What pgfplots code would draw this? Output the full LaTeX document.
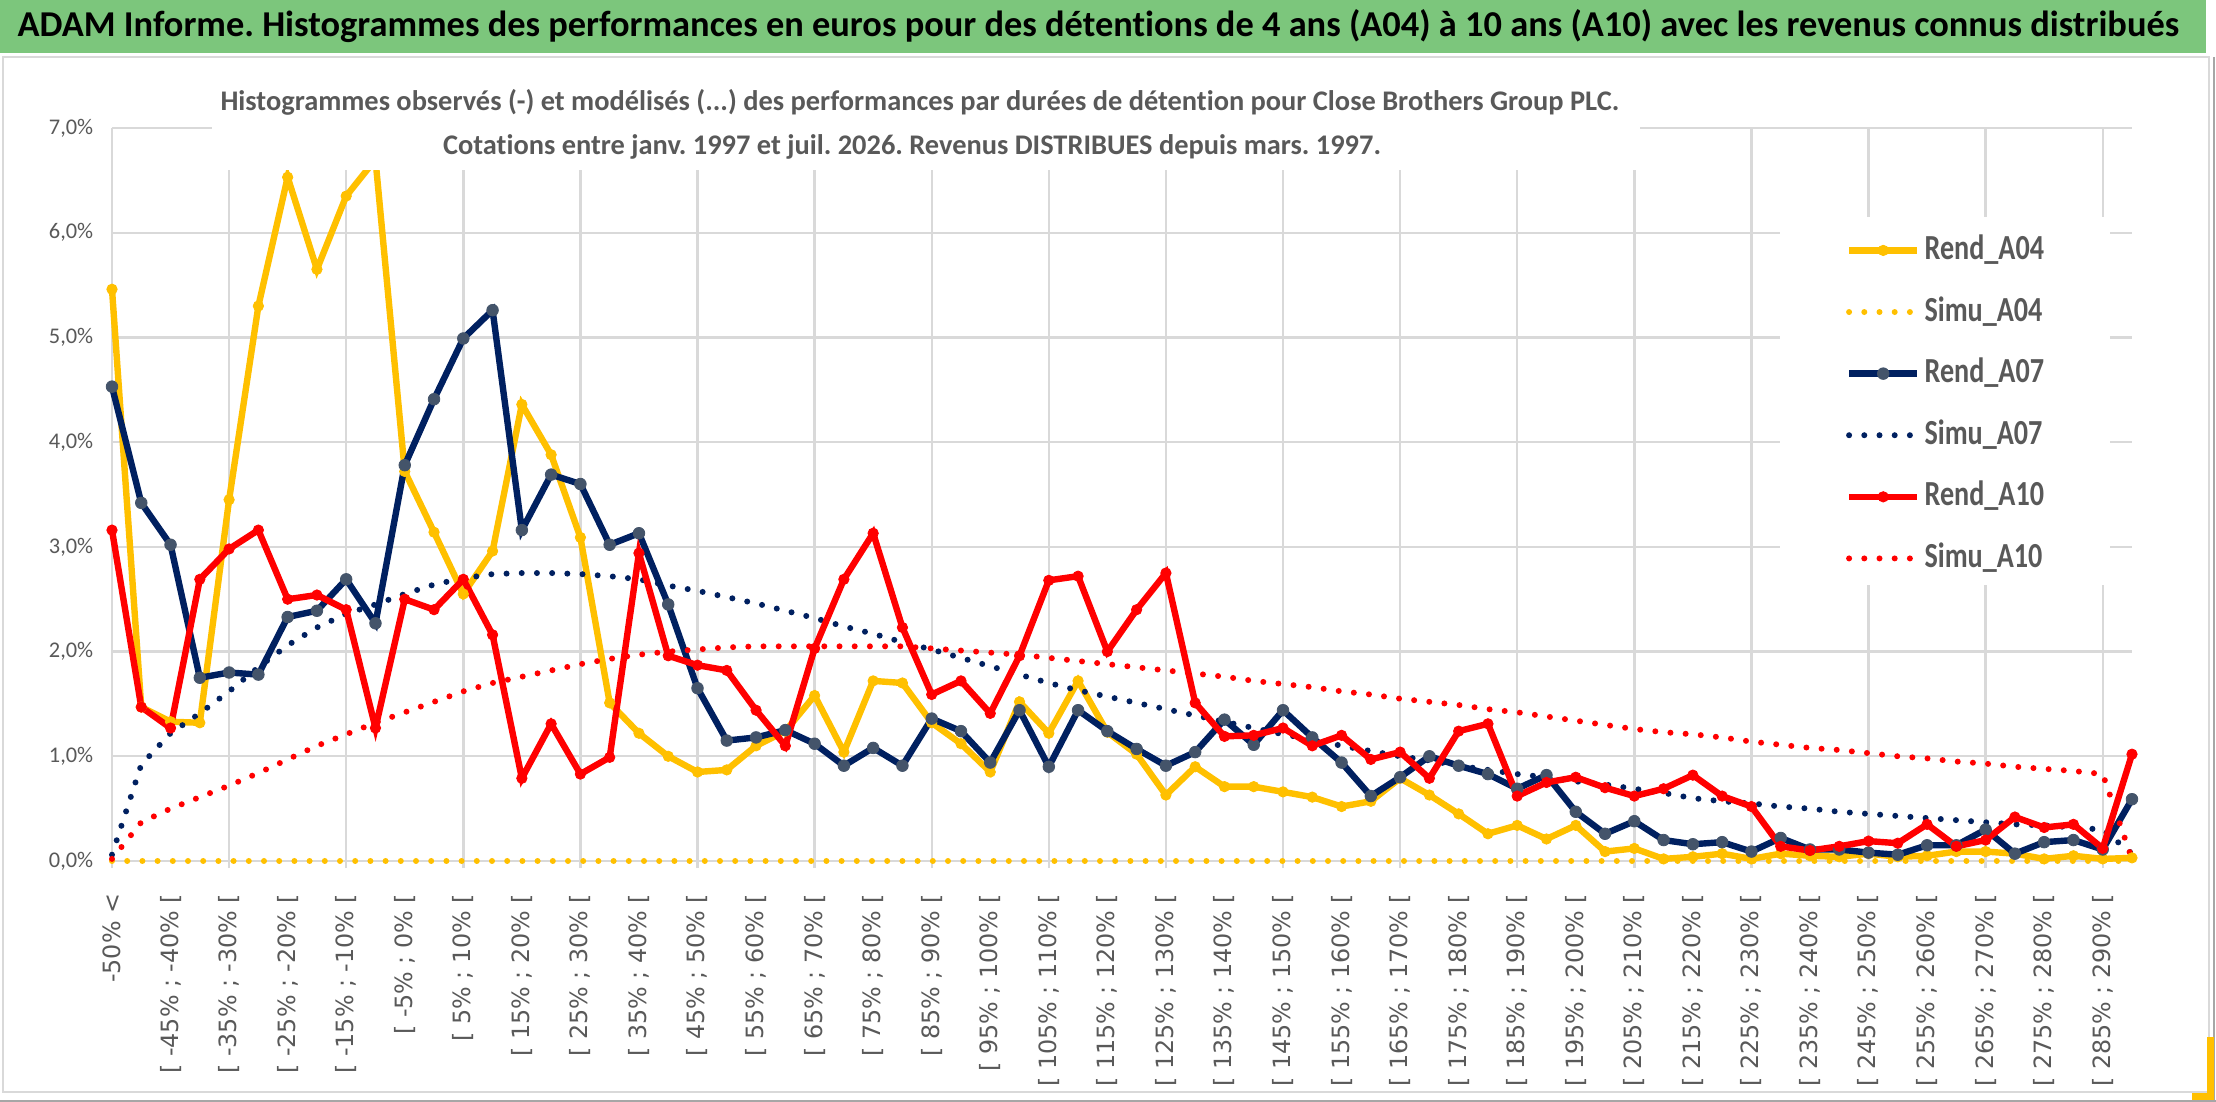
\documentclass[border=0pt]{standalone}
\usepackage{fontspec}
\setmainfont{Carlito}[Ligatures=NoCommon]
\newfontfamily\dejavu{DejaVu Sans}
\newfontfamily\legfont{Carlito}[FakeStretch=0.8, Ligatures=NoCommon]
\usepackage{pgfplots}
\usepackage{pgfplotstable}
\pgfplotsset{compat=1.18}
\definecolor{cYel}{HTML}{FFC000}
\definecolor{cNavy}{HTML}{002060}
\definecolor{cRed}{HTML}{FF0000}
\definecolor{cMark}{HTML}{44546A}
\definecolor{cGrid}{HTML}{D9D9D9}
\definecolor{cTxt}{HTML}{595959}
\definecolor{cGreen}{RGB}{124,198,124}

\pgfplotstableread{
i A04 S04 A07 S07 A10 S10
0 5.46 0 4.53 0.06 3.16 0.02
1 1.47 0 3.42 0.92 1.47 0.37
2 1.33 0 3.02 1.22 1.27 0.50
3 1.32 0 1.75 1.41 2.69 0.61
4 3.45 0 1.80 1.62 2.98 0.72
5 5.30 0 1.78 1.85 3.16 0.84
6 6.53 0 2.33 2.06 2.50 0.97
7 5.65 0 2.39 2.23 2.54 1.10
8 6.35 0 2.69 2.36 2.40 1.21
9 6.70 0 2.27 2.45 1.27 1.32
10 3.72 0 3.78 2.55 2.50 1.42
11 3.14 0 4.41 2.64 2.40 1.52
12 2.55 0 4.99 2.70 2.69 1.62
13 2.96 0 5.26 2.74 2.16 1.70
14 4.36 0 3.16 2.75 0.79 1.76
15 3.88 0 3.69 2.75 1.31 1.82
16 3.09 0 3.60 2.74 0.83 1.88
17 1.51 0 3.02 2.72 0.99 1.93
18 1.22 0 3.13 2.69 2.94 1.97
19 1.00 0 2.45 2.63 1.96 2.00
20 0.85 0 1.65 2.58 1.87 2.02
21 0.87 0 1.15 2.52 1.82 2.04
22 1.10 0 1.18 2.46 1.44 2.05
23 1.24 0 1.25 2.39 1.10 2.05
24 1.58 0 1.12 2.32 2.03 2.05
25 1.04 0 0.91 2.24 2.69 2.05
26 1.72 0 1.08 2.17 3.13 2.05
27 1.70 0 0.91 2.09 2.23 2.05
28 1.32 0 1.36 2.02 1.59 2.03
29 1.12 0 1.24 1.94 1.72 2.01
30 0.85 0 0.94 1.86 1.41 1.99
31 1.52 0 1.44 1.78 1.96 1.97
32 1.22 0 0.90 1.70 2.68 1.94
33 1.72 0 1.44 1.63 2.72 1.91
34 1.23 0 1.24 1.57 2.00 1.88
35 1.02 0 1.07 1.51 2.40 1.85
36 0.63 0 0.91 1.45 2.75 1.82
37 0.90 0 1.04 1.39 1.51 1.79
38 0.71 0 1.35 1.33 1.19 1.76
39 0.71 0 1.11 1.27 1.20 1.72
40 0.66 0 1.44 1.21 1.27 1.69
41 0.61 0 1.18 1.16 1.10 1.66
42 0.52 0 0.94 1.10 1.20 1.62
43 0.57 0 0.62 1.05 0.97 1.59
44 0.79 0 0.80 1.00 1.04 1.55
45 0.63 0 1.00 0.96 0.79 1.52
46 0.45 0 0.91 0.91 1.24 1.49
47 0.26 0 0.83 0.87 1.31 1.45
48 0.34 0 0.69 0.83 0.62 1.42
49 0.21 0 0.82 0.80 0.75 1.38
50 0.34 0 0.47 0.76 0.80 1.34
51 0.09 0 0.26 0.73 0.70 1.30
52 0.12 0 0.38 0.69 0.62 1.26
53 0.02 0 0.20 0.65 0.69 1.23
54 0.04 0 0.16 0.60 0.82 1.21
55 0.07 0 0.18 0.57 0.62 1.18
56 0.02 0 0.09 0.55 0.52 1.14
57 0.07 0 0.22 0.52 0.14 1.11
58 0.05 0 0.11 0.50 0.10 1.08
59 0.04 0 0.11 0.47 0.14 1.06
60 0.07 0 0.08 0.45 0.19 1.03
61 0.04 0 0.06 0.43 0.17 1.00
62 0.05 0 0.15 0.41 0.35 0.98
63 0.09 0 0.15 0.39 0.14 0.95
64 0.09 0 0.30 0.37 0.20 0.93
65 0.07 0 0.07 0.35 0.42 0.90
66 0.02 0 0.18 0.34 0.32 0.88
67 0.05 0 0.20 0.32 0.35 0.86
68 0.02 0 0.11 0.30 0.12 0.83
69 0.03 0 0.59 0.07 1.02 0.02
}\data

\begin{document}
\frenchspacing
\begin{tikzpicture}[x=1pt,y=1pt]
\useasboundingbox (0,0) rectangle (554,275.5);
\fill[white] (0,0) rectangle (554,275.5);
\fill[cGreen] (0,262.25) rectangle (551.5,275.5);
\draw[cGrid, line width=0.6pt] (0.75,2.5) rectangle (552.25,261.25);
\draw[gray!70, line width=0.5pt] (0,0.3) -- (554,0.3);
\draw[gray!70, line width=0.5pt] (553.6,0) -- (553.6,261.25);
\fill[cYel] (551.75,0.5) rectangle (553.5,16.25);
\fill[cYel] (548,0.5) rectangle (553.5,2.25);
\node[font=\bfseries\fontsize{9.1}{10}\selectfont, text=black, inner sep=0pt] at (274.6,268.9) {ADAM Informe. Histogrammes des performances en euros pour des détentions de 4 ans (A04) à 10 ans (A10) avec les revenus connus distribués};
\begin{axis}[
  at={(28pt,60.25pt)}, anchor=south west, scale only axis,
  width=505pt, height=183.25pt,
  xmin=0, xmax=69, ymin=0, ymax=7,
  clip=false,
  axis x line*=bottom, axis y line*=left,
  axis line style={cGrid, line width=0.6pt},
  grid style={cGrid, line width=0.6pt},
  ymajorgrids,
  ytick={0,1,...,7},
  yticklabels={{0,0\%},{1,0\%},{2,0\%},{3,0\%},{4,0\%},{5,0\%},{6,0\%},{7,0\%}},
  ytick style={draw=none},
  yticklabel style={font=\fontsize{5.6}{6}\selectfont, text=cTxt, inner sep=0pt, anchor=east, xshift=-4.5pt},
  xtick={0,2,...,68},
  xticklabels={{-50\% <},{[ -45\% ; -40\% [},{[ -35\% ; -30\% [},{[ -25\% ; -20\% [},{[ -15\% ; -10\% [},{[ -5\% ; 0\% [},{[ 5\% ; 10\% [},{[ 15\% ; 20\% [},{[ 25\% ; 30\% [},{[ 35\% ; 40\% [},{[ 45\% ; 50\% [},{[ 55\% ; 60\% [},{[ 65\% ; 70\% [},{[ 75\% ; 80\% [},{[ 85\% ; 90\% [},{[ 95\% ; 100\% [},{[ 105\% ; 110\% [},{[ 115\% ; 120\% [},{[ 125\% ; 130\% [},{[ 135\% ; 140\% [},{[ 145\% ; 150\% [},{[ 155\% ; 160\% [},{[ 165\% ; 170\% [},{[ 175\% ; 180\% [},{[ 185\% ; 190\% [},{[ 195\% ; 200\% [},{[ 205\% ; 210\% [},{[ 215\% ; 220\% [},{[ 225\% ; 230\% [},{[ 235\% ; 240\% [},{[ 245\% ; 250\% [},{[ 255\% ; 260\% [},{[ 265\% ; 270\% [},{[ 275\% ; 280\% [},{[ 285\% ; 290\% [}},
  xtick style={draw=none},
  xticklabel style={rotate=90, anchor=east, font=\dejavu\fontsize{5.95}{6.5}\selectfont, text=cTxt, inner sep=0pt},
  xticklabel shift=8pt,
  extra x ticks={0,4,...,68},
  extra x tick labels={},
  extra x tick style={grid=major, xtick style={draw=cGrid, line width=0.6pt}, major tick length=1.8pt, tick align=outside},
  legend style={at={(axis cs:59.2,6.02)}, anchor=north west, draw=none, fill=none,
    font=\legfont\bfseries\fontsize{8.8}{9}\selectfont, text=cTxt, row sep=5.9pt, inner sep=0pt,
    nodes={inner sep=1pt, text height=6pt, text depth=1.5pt}},
  legend cell align=left,
]
\fill[white] (axis cs:56.97,2.64) rectangle (axis cs:68.24,6.15);
\addplot[cYel, line width=1.6pt, mark=*, mark size=1.3pt, mark options={solid, fill=cYel, draw=cYel, line width=0.2pt}] table[x=i,y=A04]{\data};
\addlegendentry{Rend\_A04}
\addplot[cYel, line width=1.5pt, dash pattern=on 0pt off 3.8pt, line cap=round] table[x=i,y=S04]{\data};
\addlegendentry{Simu\_A04}
\addplot[cNavy, line width=1.6pt, mark=*, mark size=1.45pt, mark options={solid, fill=cMark, draw=cMark, line width=0.2pt}] table[x=i,y=A07]{\data};
\addlegendentry{Rend\_A07}
\addplot[cNavy, line width=1.5pt, dash pattern=on 0pt off 3.8pt, line cap=round] table[x=i,y=S07]{\data};
\addlegendentry{Simu\_A07}
\addplot[cRed, line width=1.6pt, mark=*, mark size=1.3pt, mark options={solid, fill=cRed, draw=cRed, line width=0.2pt}] table[x=i,y=A10]{\data};
\addlegendentry{Rend\_A10}
\addplot[cRed, line width=1.5pt, dash pattern=on 0pt off 3.8pt, line cap=round] table[x=i,y=S10]{\data};
\addlegendentry{Simu\_A10}
\end{axis}
% white box behind the chart title, covering the top of the plot area as in the reference
\fill[white] (53,233.0) rectangle (410,246);
\node[font=\bfseries\fontsize{7.1}{8}\selectfont, text=cTxt, inner sep=0pt] at (230,250) {Histogrammes observés (-) et modélisés (...) des performances par durées de détention pour Close Brothers Group PLC.};
\node[font=\bfseries\fontsize{7.1}{8}\selectfont, text=cTxt, inner sep=0pt] at (228,238.75) {Cotations entre janv. 1997 et juil. 2026. Revenus DISTRIBUES depuis mars. 1997.};
\end{tikzpicture}
\end{document}
